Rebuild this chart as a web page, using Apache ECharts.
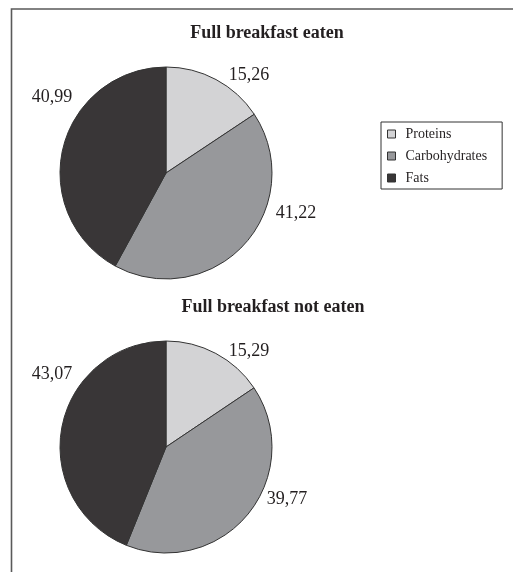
<!DOCTYPE html>
<html>
<head>
<meta charset="utf-8">
<script src="https://cdn.jsdelivr.net/npm/echarts@6/dist/echarts.min.js"></script>
<style>
    html, body { margin: 0; padding: 0; background: #fff; }
    #chart { width: 513px; height: 572px; }
</style>
</head>
<body>
<div id="chart"></div>
<script>
    // categories and values
    var categories = ['Proteins', 'Carbohydrates', 'Fats'];
    var eatenValues = [15.26, 41.22, 40.99];
    var notEatenValues = [15.29, 39.77, 43.07];
    var titles = ['Full breakfast eaten', 'Full breakfast not eaten'];

    var colors = ['#d3d3d5', '#97989b', '#393637'];
    // label centres (pixels), per pie, per slice
    var labelPos = [
        [[249, 75], [296, 213], [52, 97]],
        [[249, 351], [287, 499], [52, 374]]
    ];

    var font = '"Liberation Serif", "DejaVu Serif", serif';

    function makeData(values) {
        return values.map(function (v, i) {
            return { name: categories[i], value: v, itemStyle: { color: colors[i] } };
        });
    }

    function makePie(values, center, idx) {
        return {
            type: 'pie',
            center: center,
            radius: 106,
            startAngle: 90,
            clockwise: true,
            avoidLabelOverlap: false,
            silent: true,
            itemStyle: { borderColor: '#333', borderWidth: 1 },
            label: {
                show: true,
                position: 'outside',
                fontFamily: font,
                fontSize: 18,
                color: '#231f20',
                formatter: function (p) { return String(p.value.toFixed(2)).replace('.', ','); }
            },
            labelLine: { show: false },
            labelLayout: function (params) {
                var pos = labelPos[idx][params.dataIndex];
                return { x: pos[0], y: pos[1], align: 'center', verticalAlign: 'middle' };
            },
            emphasis: { disabled: true },
            data: makeData(values)
        };
    }

    var myChart = echarts.init(document.getElementById('chart'));
    myChart.setOption({
        animation: false,
        graphic: [{
            type: 'rect',
            shape: { x: 11.5, y: 9, width: 700, height: 700 },
            style: { fill: 'none', stroke: '#5a5a5a', lineWidth: 1.6 },
            silent: true
        }],
        title: [{
            text: titles[0],
            left: 267,
            top: 24,
            textAlign: 'center',
            padding: 0,
            textStyle: { fontFamily: font, fontSize: 18, fontWeight: 'bold', color: '#231f20' }
        }, {
            text: titles[1],
            left: 273,
            top: 298,
            textAlign: 'center',
            padding: 0,
            textStyle: { fontFamily: font, fontSize: 18, fontWeight: 'bold', color: '#231f20' }
        }],
        legend: {
            orient: 'vertical',
            left: 381,
            top: 122,
            data: categories,
            icon: 'rect',
            itemWidth: 8,
            itemHeight: 8,
            itemGap: 8,
            padding: [5, 15, 4, 6],
            borderColor: '#333',
            borderWidth: 1,
            selectedMode: false,
            itemStyle: { borderColor: '#333', borderWidth: 1 },
            textStyle: { fontFamily: font, fontSize: 14, color: '#231f20', padding: [0, 0, 0, 5] }
        },
        series: [
            makePie(eatenValues, [166, 173], 0),
            makePie(notEatenValues, [166, 447], 1)
        ]
    });
</script>
</body>
</html>
